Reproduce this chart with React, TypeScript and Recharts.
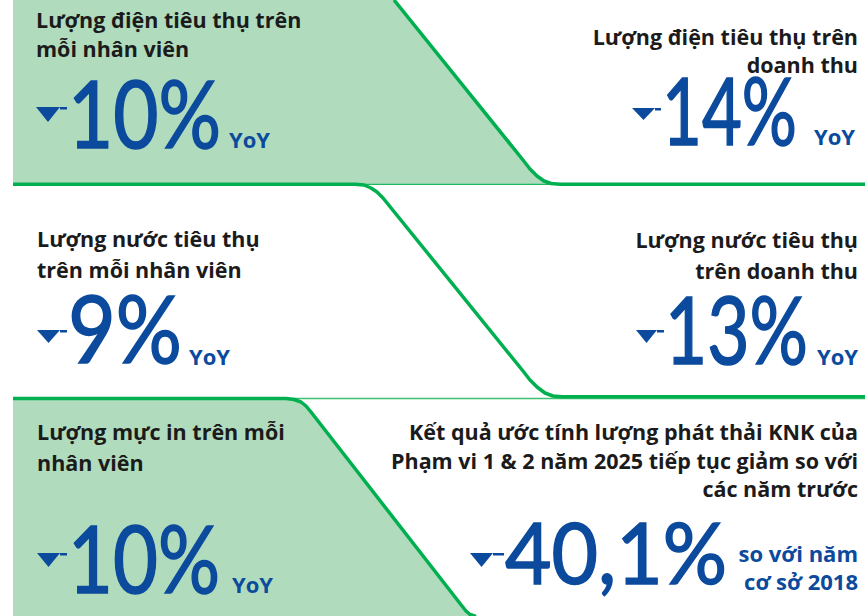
import React from 'react';
import { ComposedChart, Area, Line, XAxis, YAxis } from 'recharts';

const W = 865;
const H = 616;
const GREEN_FILL = '#b0dcbd';
const GREEN = '#00b050';
const BLUE = '#0b4a9c';
const INK = '#1b1b1b';
const TITLE_FONT = '"Open Sans", "Noto Sans", sans-serif';
const NUM_FONT = 'Lato, "Noto Sans", sans-serif';

// chart data
const metricTitles = [
  ['Lượng điện tiêu thụ trên', 'mỗi nhân viên'],
  ['Lượng điện tiêu thụ trên', 'doanh thu'],
  ['Lượng nước tiêu thụ', 'trên mỗi nhân viên'],
  ['Lượng nước tiêu thụ', 'trên doanh thu'],
  ['Lượng mực in trên mỗi', 'nhân viên'],
  ['Kết quả ước tính lượng phát thải KNK của', 'Phạm vi 1 & 2 năm 2025 tiếp tục giảm so với', 'các năm trước'],
];
const metricChanges = [-10, -14, -9, -13, -10, -40.1];
const metricBasis = [['YoY'], ['YoY'], ['YoY'], ['YoY'], ['YoY'], ['so với năm', 'cơ sở 2018']];

// panel outlines (page geometry, in px)
const topPanel = [
  { x: 13, band: [0, 184] }, { x: 394, band: [0, 184] }, { x: 523, band: [160, 184] },
  { x: 530, band: [169, 184] }, { x: 537, band: [176, 184] }, { x: 544, band: [181, 184] },
  { x: 551, band: [183.5, 184] }, { x: 560, band: [184, 184] },
];
const bottomPanel = [
  { x: 13, band: [398.5, 616] }, { x: 286, band: [398.5, 616] }, { x: 294, band: [399.5, 616] },
  { x: 301, band: [402, 616] }, { x: 306, band: [406, 616] }, { x: 311, band: [412, 616] },
  { x: 462, band: [606, 616] }, { x: 466, band: [611, 616] }, { x: 470, band: [614.5, 616] },
  { x: 476, band: [616, 616] },
];
const edge1 = [
  { x: 394, y: 0 }, { x: 523, y: 160 }, { x: 530, y: 169 }, { x: 537, y: 176 }, { x: 544, y: 181 },
  { x: 551, y: 183.5 }, { x: 560, y: 184.3 }, { x: 865, y: 184.3 },
];
const edge2 = [
  { x: 13, y: 184.3 }, { x: 355, y: 184.3 }, { x: 364, y: 185 }, { x: 371, y: 188 }, { x: 377, y: 192 },
  { x: 383, y: 198 }, { x: 523, y: 371 }, { x: 530, y: 380 }, { x: 537, y: 387 }, { x: 545, y: 393 },
  { x: 553, y: 396 }, { x: 562, y: 396.8 }, { x: 865, y: 396.8 },
];
const edge3 = [
  { x: 13, y: 398.5 }, { x: 286, y: 398.5 }, { x: 294, y: 399.5 }, { x: 301, y: 402 }, { x: 306, y: 406 },
  { x: 311, y: 412 }, { x: 462, y: 606 }, { x: 466, y: 611 }, { x: 470, y: 614.5 }, { x: 476, y: 616.5 },
];
const rule1 = [{ x: 13, y: 184.3 }, { x: 865, y: 184.3 }];
const rule2 = [{ x: 13, y: 398.5 }, { x: 865, y: 398.5 }];

// where each tile's text sits
const tiles = [
  { anchor: 'start', tx: 36, ty: [28, 57], tri: [36, 60, 107, 122], nx: 68, nw: 153, ny: 148, fs: 94, ux: 229, uy: [148] },
  { anchor: 'end', tx: 858, ty: [45, 73], tri: [632, 655, 108, 120], nx: 662, nw: 135, ny: 145, fs: 94, ux: 814, uy: [145] },
  { anchor: 'start', tx: 37, ty: [247, 278], tri: [37, 60, 330, 343], nx: 68, nw: 114, ny: 363, fs: 94, ux: 189, uy: [365] },
  { anchor: 'end', tx: 858, ty: [248, 279], tri: [636, 657, 330, 343], nx: 665, nw: 143, ny: 364, fs: 94, ux: 817, uy: [365] },
  { anchor: 'start', tx: 37, ty: [440, 471], tri: [37, 60, 553, 567], nx: 68, nw: 152, ny: 593, fs: 94, ux: 232, uy: [593] },
  { anchor: 'end', tx: 858, ty: [440, 469, 497], tri: [470, 493, 553, 567], nx: 505, nw: 222, ny: 584, fs: 86, ux: 858, uy: [562, 590], uEnd: true },
];

const fmt = (v: number) => `${String(Math.abs(v)).replace('.', ',')}%`;

const Tile = ({ i }: { i: number }) => {
  const t: any = tiles[i];
  const [x1, x2, y1, y2] = t.tri;
  return (
    <g>
      {metricTitles[i].map((line, k) => (
        <text key={k} x={t.tx} y={t.ty[k]} textAnchor={t.anchor} fontFamily={TITLE_FONT} fontSize={21.5} fontWeight={700} fill={INK}>
          {line}
        </text>
      ))}
      <polygon points={`${x1},${y1} ${x2},${y1} ${(x1 + x2) / 2},${y2}`} fill={BLUE} />
      <rect x={x2} y={y1} width={t.nx - x2 - 1} height={2.5} fill={BLUE} />
      <text
        x={t.nx}
        y={t.ny}
        fontFamily={NUM_FONT}
        fontSize={t.fs}
        fontWeight={400}
        fill={BLUE}
        stroke={BLUE}
        strokeWidth={1.6}
        textLength={t.nw}
        lengthAdjust="spacingAndGlyphs"
      >
        {fmt(metricChanges[i])}
      </text>
      {metricBasis[i].map((line, k) => (
        <text
          key={k}
          x={t.ux}
          y={t.uy[k]}
          textAnchor={t.uEnd ? 'end' : 'start'}
          fontFamily={TITLE_FONT}
          fontSize={22}
          fontWeight={700}
          fill={BLUE}
        >
          {line}
        </text>
      ))}
    </g>
  );
};

export default function App() {
  return (
    <div style={{ position: 'absolute', left: 0, top: 0, width: W, height: H, background: '#fff' }}>
      <ComposedChart width={W} height={H} margin={{ top: 0, right: 0, bottom: 0, left: 0 }}>
        <XAxis type="number" dataKey="x" domain={[0, W]} hide allowDataOverflow />
        <YAxis type="number" domain={[0, H]} reversed hide allowDataOverflow />
        <Area data={topPanel} dataKey="band" type="linear" fill={GREEN_FILL} fillOpacity={1} stroke={GREEN_FILL} strokeWidth={0} dot={false} activeDot={false} isAnimationActive={false} />
        <Area data={bottomPanel} dataKey="band" type="linear" fill={GREEN_FILL} fillOpacity={1} stroke={GREEN_FILL} strokeWidth={0} dot={false} activeDot={false} isAnimationActive={false} />
        <Line data={rule1} dataKey="y" type="linear" stroke="#1fb85c" strokeWidth={1.3} dot={false} activeDot={false} isAnimationActive={false} />
        <Line data={rule2} dataKey="y" type="linear" stroke="#3cc271" strokeWidth={1.5} dot={false} activeDot={false} isAnimationActive={false} />
        <Line data={edge1} dataKey="y" type="linear" stroke={GREEN} strokeWidth={3.5} strokeLinejoin="round" dot={false} activeDot={false} isAnimationActive={false} />
        <Line data={edge2} dataKey="y" type="linear" stroke={GREEN} strokeWidth={3.5} strokeLinejoin="round" dot={false} activeDot={false} isAnimationActive={false} />
        <Line data={edge3} dataKey="y" type="linear" stroke={GREEN} strokeWidth={3.5} strokeLinejoin="round" dot={false} activeDot={false} isAnimationActive={false} />
      </ComposedChart>
      <svg width={W} height={H} style={{ position: 'absolute', left: 0, top: 0, pointerEvents: 'none' }}>
        {metricChanges.map((_, i) => (
          <Tile key={i} i={i} />
        ))}
      </svg>
    </div>
  );
}
